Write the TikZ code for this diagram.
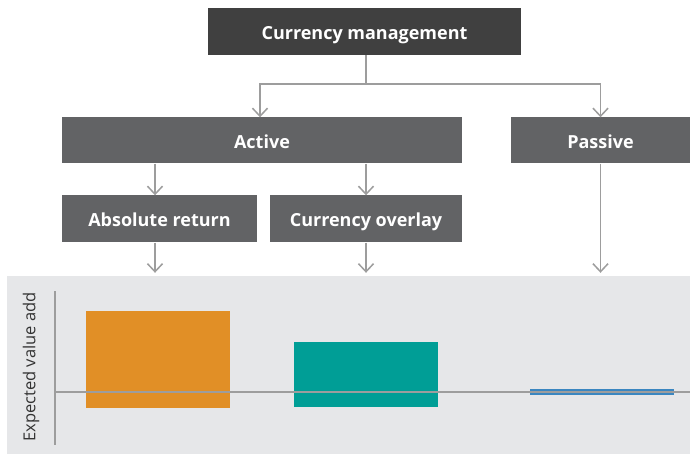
\documentclass[tikz,border=0pt]{standalone}
\usepackage{fontspec}
\setmainfont{Open Sans}
\usetikzlibrary{arrows.meta}
\definecolor{topc}{HTML}{404040}
\definecolor{boxc}{HTML}{626365}
\definecolor{linec}{HTML}{9D9D9D}
\definecolor{panelc}{HTML}{E6E7E9}
\definecolor{orangec}{HTML}{E18F26}
\definecolor{tealc}{HTML}{009E96}
\definecolor{bluec}{HTML}{3A86C0}
\tikzset{
  box/.style={rectangle, fill=boxc, text=white, font=\bfseries\fontsize{18}{21}\selectfont, inner sep=0pt, text height=15.5pt, text depth=0pt},
  arr/.style={draw=linec, line width=1.8pt, -{Straight Barb[length=8pt,width=15pt,line width=1.5pt]}},
  conn/.style={draw=linec, line width=1.8pt},
}
\begin{document}
\begin{tikzpicture}[x=1pt,y=-1pt]
\useasboundingbox (0,0) rectangle (690,454);
\node[box, fill=topc, minimum width=313pt, minimum height=47pt] (top) at (364.5,31.5) {Currency management};
\node[box, minimum width=400pt, minimum height=46pt] (active) at (262,140.5) {Active};
\node[box, minimum width=179pt, minimum height=46pt] (passive) at (600.5,140.5) {Passive};
\node[box, minimum width=195pt, minimum height=47pt] (abs) at (159.5,219) {Absolute return};
\node[box, minimum width=192pt, minimum height=47pt] (ovl) at (366,219) {Currency overlay};
\node[rectangle, fill=panelc, minimum width=683pt, minimum height=178pt, inner sep=0pt] (panel) at (348.5,365) {};
\coordinate (j) at (366,84);
\coordinate (ja) at (260,84);
\draw[conn] (top.south -| j) -- (j);
\draw[arr] (j) -- (ja) -- (ja |- active.north);
\draw[arr] (j) -| (passive.north);
\draw[arr] (active.south -| 155,0) -- (155,0 |- abs.north);
\draw[arr] (active.south -| ovl.north) -- (ovl.north);
\draw[arr, shorten >=3pt] (155,0 |- abs.south) -- (155,0 |- panel.north);
\draw[arr, shorten >=3pt] (ovl.south) -- (ovl.south |- panel.north);
\draw[arr, shorten >=3pt] (passive.south) -- (passive.south |- panel.north);
\fill[orangec] (86,311) rectangle (230,408);
\fill[tealc] (294,342) rectangle (438,407);
\fill[bluec] (530,389) rectangle (674,395);
\draw[conn, line width=2pt] (55,291) -- (55,445);
\draw[conn, line width=2.2pt] (55,392) -- (690,392);
\node[rotate=90, text=black!80, font=\fontsize{16.5}{19}\selectfont] (lab) at (31,367) {Expected value add};
\end{tikzpicture}
\end{document}
